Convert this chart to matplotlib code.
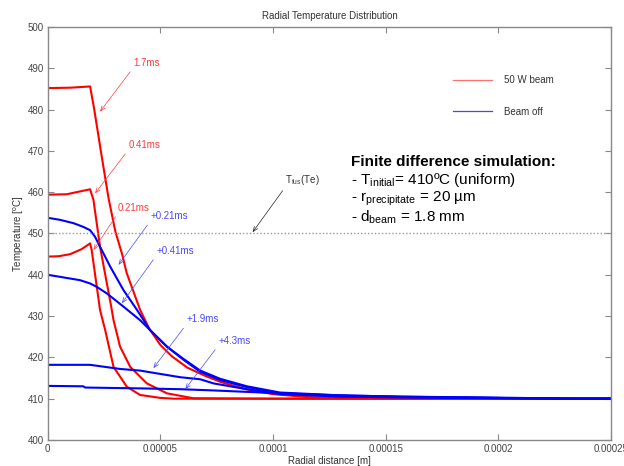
import numpy as np
import matplotlib.pyplot as plt
from matplotlib.lines import Line2D

plt.rcParams['font.family'] = ['Liberation Sans', 'DejaVu Sans']
plt.rcParams['mathtext.default'] = 'regular'

# radial distance in micrometres, temperature in degC
red_17_x = [0, 10, 18.8, 20.5, 24, 27, 30, 33, 35, 41, 45, 50, 55, 62, 70, 77, 88, 100, 115, 140, 250]
red_17_t = [485.2, 485.3, 485.6, 480.5, 468.5, 458.5, 450.5, 445.0, 440.5, 431.5, 427.0, 423.0,
            420.3, 417.5, 415.5, 414.0, 412.3, 411.1, 410.4, 410.1, 410.0]

red_041_x = [0, 8.4, 18.8, 20.3, 23.2, 28.1, 29.2, 32.1, 36.6, 44, 52.9, 64.7, 100, 250]
red_041_t = [459.4, 459.5, 460.7, 458.1, 446.8, 432.5, 429.0, 422.6, 417.7, 413.7, 411.3, 410.1, 410.0, 410.0]

red_021_x = [0, 5, 10, 15, 18.8, 19.5, 23.2, 25.5, 29.2, 35.1, 41, 49.9, 56, 250]
red_021_t = [444.4, 444.5, 445.0, 446.2, 447.6, 446.0, 431.5, 426.6, 417.7, 412.9, 410.9, 410.2, 410.0, 410.0]

blue_021_x = [0, 5.5, 11.4, 15.8, 18.8, 21.0, 23.2, 27.7, 33.6, 39.6, 45.4, 52.9, 60.3, 67.7,
              76.6, 88.4, 103.0, 129.9, 156.6, 194.4, 234.3, 250]
blue_021_t = [453.8, 453.3, 452.5, 451.6, 450.8, 449.2, 446.8, 442.0, 436.3, 431.5, 426.6, 422.6,
              419.4, 416.5, 414.5, 412.8, 411.3, 410.7, 410.4, 410.2, 410.0, 410.0]

blue_041_x = [0, 5.5, 14.3, 18.8, 21.7, 26.2, 33.6, 41.0, 48.4, 52.9, 60.3, 67.7, 76.6, 88.4,
              103.0, 129.9, 156.6, 194.4, 234.3, 250]
blue_041_t = [440.0, 439.5, 438.7, 437.9, 437.1, 435.5, 432.3, 429.0, 425.0, 422.6, 419.6, 416.8,
              414.8, 413.0, 411.5, 410.8, 410.5, 410.2, 410.0, 410.0]

blue_19_x = [0, 18.8, 32.1, 41.0, 49.9, 58.8, 67.7, 73.6, 88.4, 103.2, 129.9, 156.6, 199.8, 234.3, 250]
blue_19_t = [418.2, 418.2, 417.2, 416.8, 416.0, 415.2, 414.7, 413.7, 412.3, 411.1, 410.5, 410.3,
             410.1, 410.0, 410.0]

blue_43_x = [0, 15.8, 16.6, 41.0, 58.8, 73.6, 103.2, 129.9, 156.6, 194.4, 234.3, 250]
blue_43_t = [413.1, 413.0, 412.7, 412.5, 412.3, 412.0, 411.3, 410.8, 410.5, 410.3, 410.0, 410.0]

t_fus = 450

xticks = [0, 0.00005, 0.0001, 0.00015, 0.0002, 0.00025]
xticklabels = ['0', '0.00005', '0.0001', '0.00015', '0.0002', '0.00025']
yticks = np.arange(400, 501, 10)

fig = plt.figure(figsize=(6.24, 4.66), dpi=100)
ax = fig.add_axes([0.0765, 0.0558, 0.9028, 0.8863])

um = 1e-6
for xs, ts in [(red_17_x, red_17_t), (red_041_x, red_041_t), (red_021_x, red_021_t)]:
    ax.plot(np.array(xs) * um, ts, color='#ff0000', lw=1.5)
for xs, ts in [(blue_021_x, blue_021_t), (blue_041_x, blue_041_t), (blue_19_x, blue_19_t), (blue_43_x, blue_43_t)]:
    ax.plot(np.array(xs) * um, ts, color='#0000ff', lw=1.5)

ax.axhline(t_fus, color='#999999', ls=(0, (1, 1.5)), lw=1)

# legend
handles = [Line2D([], [], color='#ff7070', lw=0.9), Line2D([], [], color='#4848e8', lw=0.9)]
ax.legend(handles, ['50 W beam', 'Beam off'], loc='upper left', bbox_to_anchor=(0.719, 0.883),
          frameon=False, fontsize=7, handlelength=4.0, handletextpad=1.3,
          labelspacing=2.2, borderpad=0, borderaxespad=0, labelcolor='#333333')

# annotations: (label, text pos, arrow head, colour)
notes = [
    ('1.7ms', (37.9, 491.3), (23.2, 479.5), '#ff3c3c'),
    ('0.41ms', (35.7, 471.4), (21.0, 459.7), '#ff3c3c'),
    ('0.21ms', (31.2, 456.2), (20.3, 446.0), '#ff3c3c'),
    ('+0.21ms', (45.5, 454.2), (31.4, 442.4), '#4848ff'),
    ('+0.41ms', (48.1, 445.8), (32.9, 433.1), '#4848ff'),
    ('+1.9ms', (61.5, 429.2), (46.9, 417.4), '#4848ff'),
    ('+4.3ms', (75.6, 424.0), (61.0, 412.3), '#4848ff'),
]
for txt, (tx, ty), (hx, hy), c in notes:
    ax.annotate(txt, xy=(hx * um, hy), xytext=(tx * um, ty), color=c, fontsize=7,
                ha='left', va='center',
                arrowprops=dict(arrowstyle='->,head_length=0.5,head_width=0.2', color=c,
                                lw=0.5, relpos=(0, 0), shrinkA=1, shrinkB=0))
ax.annotate('T$_{fus}$(Te)', xy=(90.9 * um, 450.3), xytext=(105.5 * um, 463.0), color='#333333',
            fontsize=7, ha='left', va='center',
            arrowprops=dict(arrowstyle='->,head_length=0.5,head_width=0.2', color='#222222',
                            lw=0.5, relpos=(0, 0), shrinkA=1, shrinkB=0))

# simulation info block
ax.text(0.538, 0.674, 'Finite difference simulation:', transform=ax.transAxes,
        fontsize=11, fontweight='bold', ha='left', va='center')
ax.text(0.538, 0.630, '- T$_{initial}$= 410ºC (uniform)', transform=ax.transAxes,
        fontsize=11, ha='left', va='center')
ax.text(0.538, 0.584, '- r$_{precipitate}$ = 20 µm', transform=ax.transAxes,
        fontsize=11, ha='left', va='center')
ax.text(0.538, 0.540, '- d$_{beam}$ = 1.8 mm', transform=ax.transAxes,
        fontsize=11, ha='left', va='center')

ax.set_xlim(0, 0.00025)
ax.set_ylim(400, 500)
ax.set_xticks(xticks)
ax.set_xticklabels(xticklabels)
ax.set_yticks(yticks)
ax.tick_params(direction='in', length=4, width=0.8, colors='#888888', labelcolor='#444444',
               labelsize=7, top=True, right=True, pad=3)
for s in ax.spines.values():
    s.set_color('#888888')
    s.set_linewidth(1.0)

ax.set_title('Radial Temperature Distribution', fontsize=7, color='#333333', pad=6)
ax.set_xlabel('Radial distance [m]', fontsize=7, color='#333333', labelpad=1.5)
ax.set_ylabel('Temperature [$^o$C]', fontsize=7, color='#333333', labelpad=1)

fig.savefig('out.png', dpi=100)
